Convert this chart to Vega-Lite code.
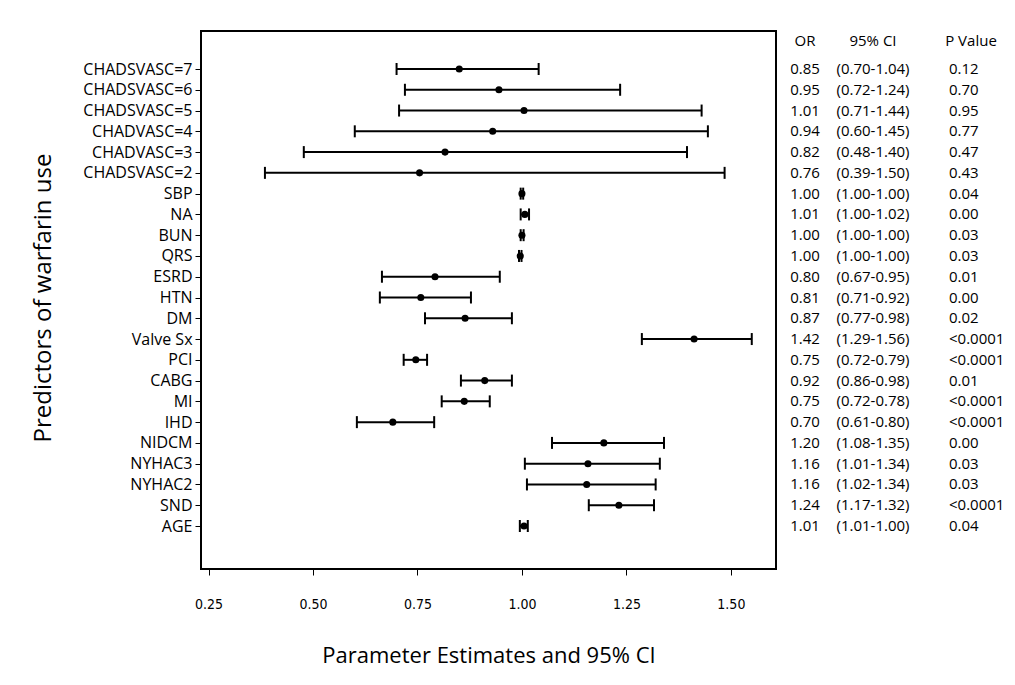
{
  "$schema": "https://vega.github.io/schema/vega-lite/v6.json",
  "padding": {"left": 30, "top": 30, "right": 5, "bottom": 5},
  "background": "white",
  "spacing": 0,
  "datasets": {
    "rows": [
      {"label": "CHADSVASC=7", "est": 0.85, "lo": 0.70, "hi": 1.04, "or": "0.85", "ci": "(0.70-1.04)", "p": "0.12"},
      {"label": "CHADSVASC=6", "est": 0.945, "lo": 0.72, "hi": 1.235, "or": "0.95", "ci": "(0.72-1.24)", "p": "0.70"},
      {"label": "CHADSVASC=5", "est": 1.005, "lo": 0.706, "hi": 1.43, "or": "1.01", "ci": "(0.71-1.44)", "p": "0.95"},
      {"label": "CHADVASC=4", "est": 0.93, "lo": 0.60, "hi": 1.445, "or": "0.94", "ci": "(0.60-1.45)", "p": "0.77"},
      {"label": "CHADVASC=3", "est": 0.816, "lo": 0.478, "hi": 1.395, "or": "0.82", "ci": "(0.48-1.40)", "p": "0.47"},
      {"label": "CHADSVASC=2", "est": 0.755, "lo": 0.385, "hi": 1.485, "or": "0.76", "ci": "(0.39-1.50)", "p": "0.43"},
      {"label": "SBP", "est": 1.0, "lo": 0.997, "hi": 1.003, "or": "1.00", "ci": "(1.00-1.00)", "p": "0.04"},
      {"label": "NA", "est": 1.007, "lo": 0.997, "hi": 1.017, "or": "1.01", "ci": "(1.00-1.02)", "p": "0.00"},
      {"label": "BUN", "est": 1.0, "lo": 0.997, "hi": 1.004, "or": "1.00", "ci": "(1.00-1.00)", "p": "0.03"},
      {"label": "QRS", "est": 0.996, "lo": 0.993, "hi": 0.999, "or": "1.00", "ci": "(1.00-1.00)", "p": "0.03"},
      {"label": "ESRD", "est": 0.792, "lo": 0.665, "hi": 0.947, "or": "0.80", "ci": "(0.67-0.95)", "p": "0.01"},
      {"label": "HTN", "est": 0.758, "lo": 0.66, "hi": 0.878, "or": "0.81", "ci": "(0.71-0.92)", "p": "0.00"},
      {"label": "DM", "est": 0.864, "lo": 0.768, "hi": 0.976, "or": "0.87", "ci": "(0.77-0.98)", "p": "0.02"},
      {"label": "Valve Sx", "est": 1.412, "lo": 1.287, "hi": 1.55, "or": "1.42", "ci": "(1.29-1.56)", "p": "<0.0001"},
      {"label": "PCI", "est": 0.746, "lo": 0.717, "hi": 0.773, "or": "0.75", "ci": "(0.72-0.79)", "p": "<0.0001"},
      {"label": "CABG", "est": 0.911, "lo": 0.854, "hi": 0.976, "or": "0.92", "ci": "(0.86-0.98)", "p": "0.01"},
      {"label": "MI", "est": 0.862, "lo": 0.808, "hi": 0.923, "or": "0.75", "ci": "(0.72-0.78)", "p": "<0.0001"},
      {"label": "IHD", "est": 0.691, "lo": 0.605, "hi": 0.79, "or": "0.70", "ci": "(0.61-0.80)", "p": "<0.0001"},
      {"label": "NIDCM", "est": 1.196, "lo": 1.072, "hi": 1.34, "or": "1.20", "ci": "(1.08-1.35)", "p": "0.00"},
      {"label": "NYHAC3", "est": 1.158, "lo": 1.007, "hi": 1.33, "or": "1.16", "ci": "(1.01-1.34)", "p": "0.03"},
      {"label": "NYHAC2", "est": 1.155, "lo": 1.012, "hi": 1.32, "or": "1.16", "ci": "(1.02-1.34)", "p": "0.03"},
      {"label": "SND", "est": 1.232, "lo": 1.16, "hi": 1.316, "or": "1.24", "ci": "(1.17-1.32)", "p": "<0.0001"},
      {"label": "AGE", "est": 1.005, "lo": 0.995, "hi": 1.014, "or": "1.01", "ci": "(1.01-1.00)", "p": "0.04"}
    ]
  },
  "hconcat": [
    {
      "width": 575,
      "height": 538,
      "data": {"name": "rows"},
      "view": {"stroke": "black", "strokeWidth": 2},
      "encoding": {
        "y": {
          "field": "label", "type": "nominal", "sort": null,
          "scale": {"type": "point", "padding": 0, "range": [38, 495]},
          "axis": {
            "title": "Predictors of warfarin use", "titleFontSize": 24, "titleFontWeight": "normal",
            "titleColor": "black", "titlePadding": 27, "labelFontSize": 16, "labelColor": "black",
            "tickColor": "black", "tickSize": 6, "labelPadding": 3, "domain": false, "grid": false
          }
        }
      },
      "layer": [
        {
          "mark": {"type": "rule", "color": "black", "strokeWidth": 2},
          "encoding": {
            "x": {
              "field": "lo", "type": "quantitative",
              "scale": {"domain": [0.232, 1.608], "nice": false, "zero": false},
              "axis": {
                "title": "Parameter Estimates and 95% CI", "values": [0.25, 0.5, 0.75, 1, 1.25, 1.5],
                "format": ".2f", "labelFont": "DejaVu Sans Condensed", "labelFontSize": 14,
                "labelColor": "black", "labelPadding": 22, "tickSize": 6, "tickColor": "black",
                "domain": false, "grid": false, "titleFontSize": 22, "titleFontWeight": "normal",
                "titleColor": "black", "titlePadding": 34
              }
            },
            "x2": {"field": "hi"}
          }
        },
        {
          "mark": {"type": "tick", "color": "black", "thickness": 2, "size": 12, "opacity": 1},
          "encoding": {"x": {"field": "lo", "type": "quantitative", "title": "Parameter Estimates and 95% CI"}}
        },
        {
          "mark": {"type": "tick", "color": "black", "thickness": 2, "size": 12, "opacity": 1},
          "encoding": {"x": {"field": "hi", "type": "quantitative", "title": "Parameter Estimates and 95% CI"}}
        },
        {
          "mark": {"type": "point", "filled": true, "color": "black", "size": 50, "opacity": 1},
          "encoding": {"x": {"field": "est", "type": "quantitative", "title": "Parameter Estimates and 95% CI"}}
        }
      ]
    },
    {
      "width": 56,
      "height": 538,
      "data": {"name": "rows"},
      "title": {"text": "OR", "offset": -18, "fontSize": 15, "fontWeight": "normal", "color": "black", "font": "Open Sans"},
      "mark": {"type": "text", "fontSize": 15, "color": "black", "font": "Open Sans"},
      "encoding": {
        "y": {"field": "label", "type": "nominal", "sort": null, "scale": {"type": "point", "padding": 0, "range": [38, 495]}, "axis": null},
        "text": {"field": "or"}
      }
    },
    {
      "width": 80,
      "height": 538,
      "data": {"name": "rows"},
      "title": {"text": "95% CI", "offset": -18, "fontSize": 15, "fontWeight": "normal", "color": "black", "font": "Open Sans"},
      "mark": {"type": "text", "fontSize": 15, "color": "black", "font": "Open Sans"},
      "encoding": {
        "y": {"field": "label", "type": "nominal", "sort": null, "scale": {"type": "point", "padding": 0, "range": [38, 495]}, "axis": null},
        "text": {"field": "ci"}
      }
    },
    {
      "width": 72,
      "height": 538,
      "data": {"name": "rows"},
      "title": {"text": "P Value", "offset": -18, "dx": 22, "fontSize": 15, "fontWeight": "normal", "color": "black", "font": "Open Sans"},
      "mark": {"type": "text", "fontSize": 15, "color": "black", "font": "Open Sans", "align": "left"},
      "encoding": {
        "y": {"field": "label", "type": "nominal", "sort": null, "scale": {"type": "point", "padding": 0, "range": [38, 495]}, "axis": null},
        "text": {"field": "p"}
      }
    }
  ],
  "config": {
    "view": {"stroke": null},
    "font": "Open Sans",
    "axis": {"labelFont": "Open Sans", "titleFont": "Open Sans"}
  }
}
